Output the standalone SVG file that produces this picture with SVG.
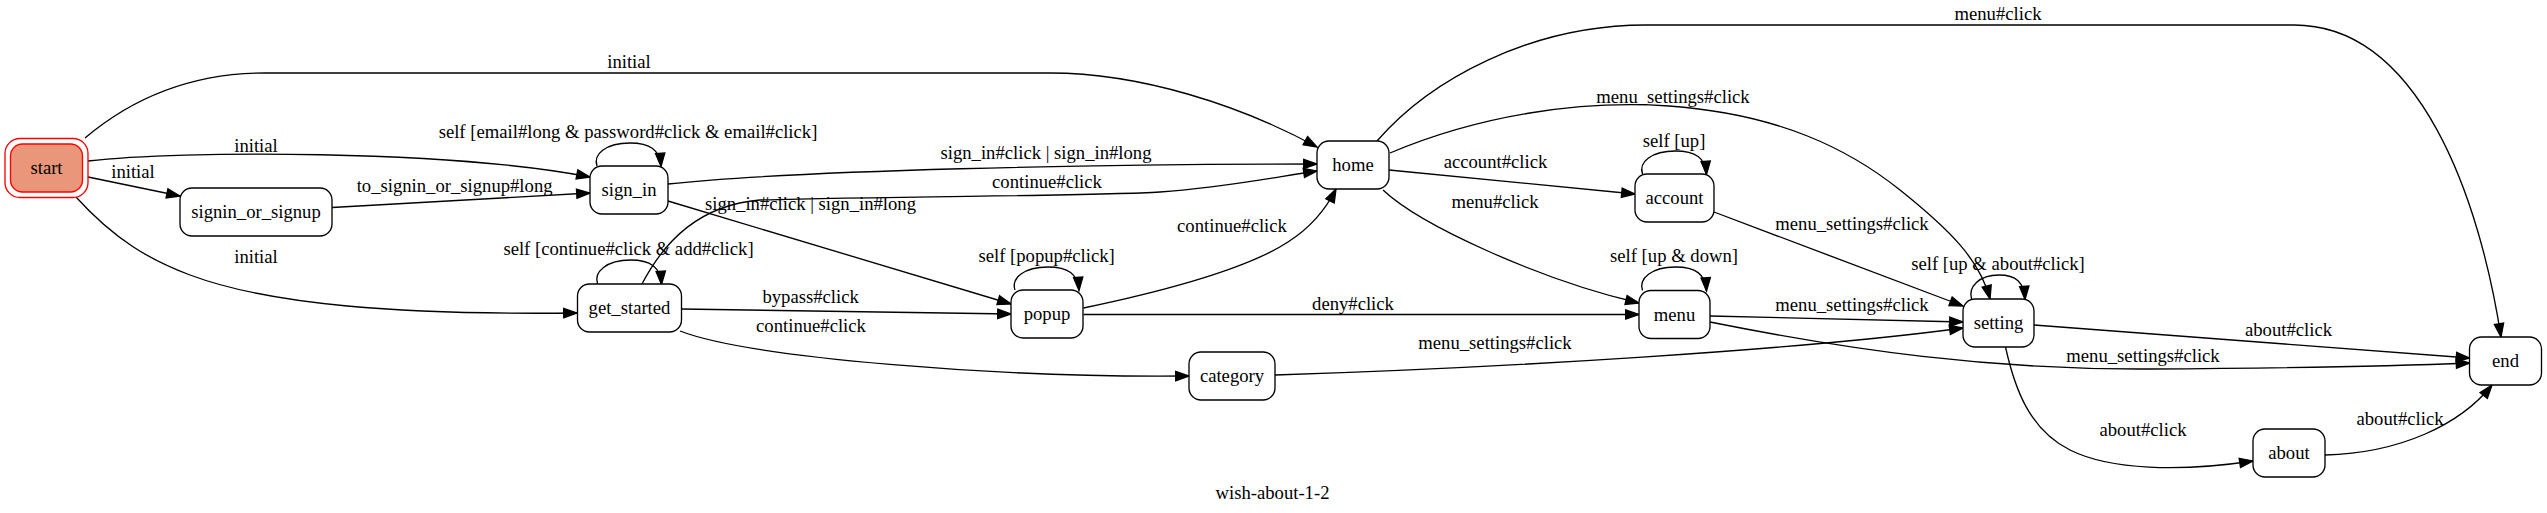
<svg xmlns="http://www.w3.org/2000/svg" width="2547" height="513" viewBox="0 0 2547 513">
<style>
.n rect{fill:#fff;stroke:#000;stroke-width:1.33}
text{font-family:"Liberation Serif","Times New Roman",serif;font-size:18.67px;fill:#000;text-anchor:middle}
.e path{fill:none;stroke:#000;stroke-width:1.33;marker-end:url(#arr)}
</style>
<defs>
<marker id="arr" markerUnits="userSpaceOnUse" markerWidth="16" markerHeight="12" refX="13.3" refY="4.67" orient="auto" overflow="visible">
<path d="M0,0 L13.3,4.67 L0,9.33 Z" fill="#000" stroke="#000" stroke-width="1.33"/>
</marker>
</defs>
<rect width="2547" height="513" fill="#fff"/>
<g id="connectors" class="e">
<path d="M85,138 C130,100 190,73 265,73 L1050,73 C1140,73 1240,105 1317,147"/>
<path d="M88,161 C180,150 450,150 590,177"/>
<path d="M88,177 L180,196"/>
<path d="M76,197 C115,240 150,260 190,275 C270,305 400,315 577,313"/>
<path d="M332,207.5 L590,193"/>
<path d="M597,166 C593,154 606,143 630,143 C650,143 660,150 661,166.5"/>
<path d="M668,184 C800,170 1100,164 1317,164"/>
<path d="M668,201 L1011,304"/>
<path d="M642,284 C665,240 700,205 760,200 C900,196 1100,196 1160,192 C1220,188 1270,178 1317,171"/>
<path d="M597.5,284 C593.5,272 606.5,260 630.5,260 C650.5,260 660.5,267 661.5,284.5"/>
<path d="M681.5,309 L1011,314"/>
<path d="M680,331 C750,358 1000,378 1189,376"/>
<path d="M1015,290 C1011,278 1024,267 1048,267 C1068,267 1078,274 1079,290.5"/>
<path d="M1083.5,308 C1160,292 1245,270 1288,242 C1313,226 1328,205 1336,189"/>
<path d="M1083.5,314.5 L1639,314.5"/>
<path d="M1389,170 L1635,194"/>
<path d="M1383,190 C1420,225 1540,280 1639,303"/>
<path d="M1377,141 C1430,80 1530,25 1646,25 L2294,25 C2420,25 2480,200 2501,337"/>
<path d="M1390,153 C1480,115 1580,100 1669,106 C1780,114 1850,150 1900,190 C1950,230 1980,260 1990,299"/>
<path d="M1642.5,174 C1638.5,162 1651.5,151 1675.5,151 C1695.5,151 1705.5,158 1706.5,174.5"/>
<path d="M1714,212 L1963,306"/>
<path d="M1642.5,290.5 C1638.5,278.5 1651.5,267 1675.5,267 C1695.5,267 1705.5,274 1706.5,291"/>
<path d="M1710,316 L1963,322"/>
<path d="M1710,322 C1850,350 1990,370 2150,369 C2300,368 2420,365 2469.6,363"/>
<path d="M1275,375 C1500,368 1800,350 1963,328"/>
<path d="M1971.5,299 C1968,287 1979,275 1999,275 C2016,275 2024,282 2025,299.5"/>
<path d="M2034,325 L2469.6,358"/>
<path d="M2005.5,347 C2015,390 2030,430 2070,450 C2110,470 2180,472 2253,461"/>
<path d="M2325,455 C2400,453 2460,425 2492,385"/>
</g>
<g id="edge-labels">
<text x="629" y="68">initial</text>
<text x="256" y="152">initial</text>
<text x="133" y="178">initial</text>
<text x="256" y="263">initial</text>
<text x="454.6" y="192">to_signin_or_signup#long</text>
<text x="628" y="138">self [email#long &amp; password#click &amp; email#click]</text>
<text x="1046" y="159">sign_in#click | sign_in#long</text>
<text x="810.5" y="210">sign_in#click | sign_in#long</text>
<text x="1047" y="188">continue#click</text>
<text x="628.5" y="255">self [continue#click &amp; add#click]</text>
<text x="810.6" y="303">bypass#click</text>
<text x="811" y="332">continue#click</text>
<text x="1046.6" y="262">self [popup#click]</text>
<text x="1232" y="232">continue#click</text>
<text x="1353" y="310">deny#click</text>
<text x="1495.5" y="168">account#click</text>
<text x="1495" y="208">menu#click</text>
<text x="1998" y="20">menu#click</text>
<text x="1673" y="103">menu_settings#click</text>
<text x="1674" y="147">self [up]</text>
<text x="1852" y="230">menu_settings#click</text>
<text x="1674" y="262">self [up &amp; down]</text>
<text x="1852" y="311">menu_settings#click</text>
<text x="2143" y="362">menu_settings#click</text>
<text x="1495" y="349">menu_settings#click</text>
<text x="1998" y="270">self [up &amp; about#click]</text>
<text x="2288.5" y="336">about#click</text>
<text x="2143" y="436">about#click</text>
<text x="2400" y="425">about#click</text>
</g>
<g id="start">
<rect x="5" y="138.5" width="83" height="59" rx="15" fill="none" stroke="#ff0000" stroke-width="1.33"/>
<rect x="10.5" y="144" width="72" height="48" rx="12" fill="#e9967a" stroke="#ff0000" stroke-width="1.33"/>
<text x="46.5" y="174">start</text>
</g>
<g id="signin_or_signup" class="n"><rect x="180" y="188" width="152" height="48" rx="12"/><text x="256" y="218">signin_or_signup</text></g>
<g id="sign_in" class="n"><rect x="590" y="166" width="78" height="48" rx="12"/><text x="629" y="196">sign_in</text></g>
<g id="get_started" class="n"><rect x="577.5" y="284" width="104" height="48" rx="12"/><text x="629.5" y="314">get_started</text></g>
<g id="popup" class="n"><rect x="1011" y="290" width="72" height="48" rx="12"/><text x="1047" y="320">popup</text></g>
<g id="category" class="n"><rect x="1189" y="352" width="86" height="48" rx="12"/><text x="1232" y="382">category</text></g>
<g id="home" class="n"><rect x="1317" y="141" width="72" height="48" rx="12"/><text x="1353" y="171">home</text></g>
<g id="account" class="n"><rect x="1635" y="174" width="79" height="48" rx="12"/><text x="1674.5" y="204">account</text></g>
<g id="menu" class="n"><rect x="1639" y="290.5" width="71" height="48" rx="12"/><text x="1674.5" y="320.5">menu</text></g>
<g id="setting" class="n"><rect x="1963" y="299" width="71" height="48" rx="12"/><text x="1998.5" y="329">setting</text></g>
<g id="about" class="n"><rect x="2253" y="429" width="72" height="48" rx="12"/><text x="2289" y="459">about</text></g>
<g id="end" class="n"><rect x="2469.5" y="337" width="72" height="48" rx="12"/><text x="2505.5" y="367">end</text></g>
<text id="title" x="1272.5" y="499">wish-about-1-2</text>
</svg>
